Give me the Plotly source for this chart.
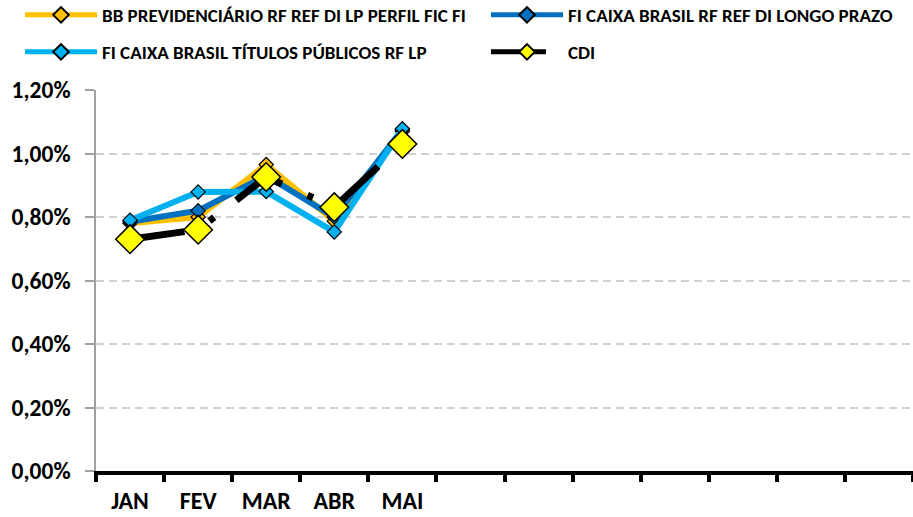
import plotly.graph_objects as go

# ── dados ──────────────────────────────────────────
meses = ["JAN", "FEV", "MAR", "ABR", "MAI", "JUN", "JUL", "AGO", "SET", "OUT", "NOV", "DEZ"]
rotulos = ["JAN", "FEV", "MAR", "ABR", "MAI", "", "", "", "", "", "", ""]

bb_prev = [0.78, 0.80, 0.965, 0.787, 1.07]
caixa_di = [0.785, 0.82, 0.93, 0.80, 1.075]
caixa_tp = [0.79, 0.879, 0.88, 0.753, 1.078]
cdi = [0.73, 0.76, 0.926, 0.831, 1.03]

nomes = [
    "BB PREVIDENCIÁRIO RF REF DI LP PERFIL FIC FI",
    "FI CAIXA BRASIL RF REF DI LONGO PRAZO",
    "FI CAIXA BRASIL TÍTULOS PÚBLICOS RF LP",
    "CDI",
]

FONTE = "Carlito, Calibri, 'Liberation Sans Narrow', 'Open Sans', sans-serif"
W, H = 913, 517

fig = go.Figure()

series = [
    (bb_prev, nomes[0], "#FFC000", "legend"),
    (caixa_di, nomes[1], "#0070C0", "legend2"),
    (caixa_tp, nomes[2], "#00B0F0", "legend3"),
]
for vals, nome, cor, leg in series:
    fig.add_trace(go.Scatter(
        x=meses[:len(vals)], y=vals, name=nome, mode="lines+markers",
        line=dict(color=cor, width=6),
        marker=dict(symbol="diamond", size=11, color=cor, line=dict(color="black", width=1.2)),
        legend=leg,
    ))

fig.add_trace(go.Scatter(
    x=meses[:len(cdi)], y=cdi, name=nomes[3], mode="lines+markers",
    line=dict(color="black", width=7, dash="55px,28px,6px,28px"),
    marker=dict(symbol="diamond", size=22, color="#FFFF00", line=dict(color="black", width=1.5)),
    legend="legend4",
))


def legenda(x, y):
    return dict(
        orientation="h", xref="container", yref="container",
        xanchor="left", yanchor="middle", x=x, y=y,
        itemsizing="constant", itemwidth=72, bgcolor="rgba(0,0,0,0)",
        font=dict(family=FONTE, size=19, color="black", weight="bold"),
    )


col1, col2 = 20 / W, 486 / W
lin1, lin2 = 1 - 15 / H, 1 - 52 / H

fig.update_layout(
    width=W, height=H,
    paper_bgcolor="white", plot_bgcolor="white",
    separators=",.",
    font=dict(family=FONTE, color="black"),
    margin=dict(l=96, r=0, t=90, b=46),
    showlegend=True,
    legend=legenda(col1, lin1),
    legend2=legenda(col2, lin1),
    legend3=legenda(col1, lin2),
    legend4=legenda(col2, lin2),
    xaxis=dict(
        type="category", categoryorder="array", categoryarray=meses,
        range=[-0.5, 11.5], tickmode="array", tickvals=meses, ticktext=rotulos,
        tickson="boundaries", ticks="outside", ticklen=7, tickwidth=4, tickcolor="black",
        showline=True, linecolor="black", linewidth=4, showgrid=False,
        automargin=False, ticklabelstandoff=5,
        tickfont=dict(family=FONTE, size=24, color="black", weight="bold"),
    ),
    yaxis=dict(
        range=[0, 1.2], dtick=0.2, tickformat=".2f", ticksuffix="%",
        ticks="outside", ticklen=9, tickcolor="#a0a0a0", tickwidth=1.5,
        showline=True, linecolor="#a0a0a0", linewidth=1.5,
        showgrid=True, gridcolor="#d0d0d0", gridwidth=1.5, griddash="8px,5px",
        zeroline=False, automargin=False, ticklabelstandoff=10,
        tickfont=dict(family=FONTE, size=23.5, color="black", weight="bold"),
    ),
)

# tira a margem padrão do body para a figura ocupar a janela inteira
fig.write_html(
    "out.html",
    config={"displayModeBar": False},
    post_script="document.body.style.margin='0px';",
)
